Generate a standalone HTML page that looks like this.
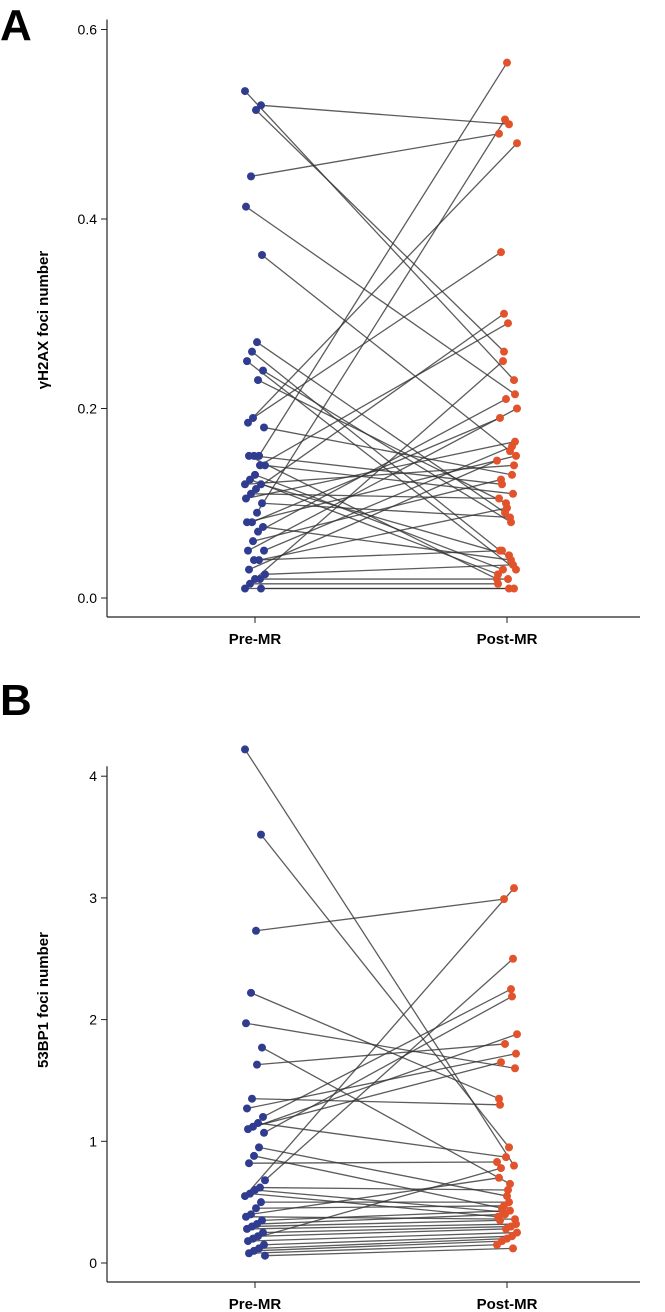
<!DOCTYPE html>
<html><head><meta charset="utf-8"><style>
html,body{margin:0;padding:0;background:#fff;width:665px;height:1312px;overflow:hidden}
svg{display:block}
text{font-family:"Liberation Sans",sans-serif}
</style></head><body>
<svg id="c" width="665" height="1312">
<text x="0" y="40" font-size="44" font-weight="bold">A</text>
<text x="0" y="715" font-size="44" font-weight="bold">B</text>
</svg>
<script>
const aPre  =[0.535,0.52,0.515,0.445,0.413,0.362,0.27,0.26,0.25,0.24,0.23,0.19,0.185,0.18,0.15,0.15,0.15,0.14,0.14,0.13,0.125,0.12,0.12,0.115,0.11,0.105,0.10,0.09,0.08,0.08,0.075,0.07,0.06,0.05,0.05,0.04,0.04,0.03,0.025,0.02,0.02,0.015,0.01,0.01];
const aPost =[0.23,0.50,0.26,0.49,0.215,0.155,0.09,0.05,0.03,0.08,0.10,0.365,0.48,0.13,0.565,0.12,0.02,0.11,0.29,0.03,0.025,0.14,0.045,0.30,0.105,0.165,0.085,0.505,0.19,0.15,0.04,0.21,0.125,0.20,0.16,0.095,0.05,0.145,0.035,0.02,0.25,0.015,0.01,0.01];
const aTicks=[0.0,0.2,0.4,0.6];
const bPre  =[4.22,3.52,2.73,2.22,1.97,1.77,1.63,1.35,1.27,1.2,1.15,1.12,1.1,1.07,0.95,0.88,0.82,0.68,0.62,0.6,0.57,0.55,0.5,0.45,0.4,0.38,0.35,0.32,0.3,0.28,0.25,0.22,0.2,0.18,0.15,0.12,0.1,0.08,0.06];
const bPost =[0.8,0.95,2.99,1.35,1.6,0.65,1.8,1.3,1.72,2.25,0.87,1.65,1.88,2.19,0.55,0.45,0.83,2.5,0.6,0.42,0.38,3.08,0.5,0.47,0.7,0.36,0.43,0.4,0.35,0.32,0.3,0.28,0.78,0.25,0.22,0.2,0.18,0.15,0.12];
const bTicks=[0,1,2,3,4];
const cats=["Pre-MR","Post-MR"];
const NS="http://www.w3.org/2000/svg",svg=document.getElementById('c');
function mk(t,a,p){const e=document.createElementNS(NS,t);for(const k in a)e.setAttribute(k,a[k]);(p||svg).appendChild(e);return e;}
function panel(pre,post,ticks,y0,ppu,axisY,yTitle,fmt,pfx,titleY){
  const g=mk('g',{});
  
  
  const sy=v=>y0-v*ppu;
  const ax=mk('line',{x1:107,y1:sy(ticks[ticks.length-1])-10,x2:107,y2:axisY,stroke:'#222','stroke-width':1.2},g);
  
  const xa=mk('line',{x1:107,y1:axisY,x2:640,y2:axisY,stroke:'#222','stroke-width':1.2},g);
  
  ticks.forEach(t=>{
    mk('line',{x1:101,x2:107,y1:sy(t),y2:sy(t),stroke:'#222'},g);
    const tx=mk('text',{x:97,y:sy(t)+5,'font-size':14,'text-anchor':'end'},g);tx.textContent=fmt(t);
    
  });
  const yt=mk('text',{x:0,y:0,'font-size':15,'font-weight':'bold','text-anchor':'middle',transform:`translate(48,${titleY}) rotate(-90)`},g);yt.textContent=yTitle;
  
  [255,507].forEach((x,i)=>{mk('line',{x1:x,x2:x,y1:axisY,y2:axisY+6,stroke:'#222'},g);
    const c=mk('text',{x:x,y:axisY+27,'font-size':15,'font-weight':'bold','text-anchor':'middle'},g);c.textContent=cats[i];
    });
  const jx=i=>((i*37)%21)-10;
  pre.forEach((v,i)=>{const l=mk('line',{x1:255+jx(i),y1:sy(v),x2:507+jx(i+5),y2:sy(post[i]),stroke:'#333','stroke-opacity':0.8,'stroke-width':1.3},g);
    });
  pre.forEach((v,i)=>{const c=mk('circle',{cx:255+jx(i),cy:sy(v),r:4,fill:'#2f3c8f'},g);
    
    const d=mk('circle',{cx:507+jx(i+5),cy:sy(post[i]),r:4,fill:'#e2532b'},g);
    });
}
panel(aPre,aPost,aTicks,598,947.5,617,'γH2AX foci number',t=>t.toFixed(1),'panel-a',320);
panel(bPre,bPost,bTicks,1263,121.7,1282,'53BP1 foci number',t=>String(t),'panel-b',1000);
</script>
</body></html>
